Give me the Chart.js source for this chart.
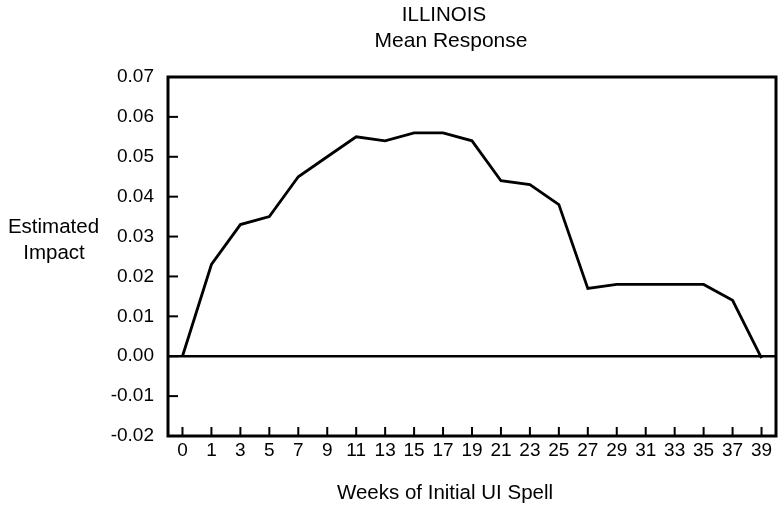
<!DOCTYPE html>
<html>
<head>
<meta charset="utf-8">
<script src="https://cdn.jsdelivr.net/npm/chart.js@4/dist/chart.umd.min.js"></script>
<style>
  html, body { margin: 0; padding: 0; background: #fff; }
  #wrap { width: 782px; height: 510px; position: relative; }
</style>
</head>
<body>
<div id="wrap"><canvas id="c" width="782" height="510"></canvas></div>
<script>
// Data
const weeks = ['0','1','3','5','7','9','11','13','15','17','19','21','23','25','27','29','31','33','35','37','39'];
const meanResponse = [0.000, 0.023, 0.033, 0.035, 0.045, 0.050, 0.055, 0.054, 0.056, 0.056, 0.054,
                      0.044, 0.043, 0.038, 0.017, 0.018, 0.018, 0.018, 0.018, 0.014, -0.0005];
const yTickValues = [0.07, 0.06, 0.05, 0.04, 0.03, 0.02, 0.01, 0.00, -0.01, -0.02];
const titleLines = ['ILLINOIS', 'Mean Response'];
const yTitleLines = ['Estimated', 'Impact'];
const xTitle = 'Weeks of Initial UI Spell';

const FONT = '"Liberation Sans", Arial, Helvetica, sans-serif';

const framePlugin = {
  id: 'frame',
  beforeDatasetsDraw(chart) {
    const {ctx, chartArea: a, scales: {x, y}} = chart;
    ctx.save();
    ctx.strokeStyle = '#000';
    // zero line
    ctx.lineWidth = 2.5;
    const y0 = y.getPixelForValue(0);
    ctx.beginPath(); ctx.moveTo(a.left, y0); ctx.lineTo(a.right, y0); ctx.stroke();
    // inside ticks on y axis
    ctx.lineWidth = 2;
    yTickValues.forEach(v => {
      const py = y.getPixelForValue(v);
      ctx.beginPath(); ctx.moveTo(a.left, py); ctx.lineTo(a.left + 10, py); ctx.stroke();
    });
    // inside ticks on x axis
    weeks.forEach((w, i) => {
      const px = x.getPixelForValue(i);
      ctx.beginPath(); ctx.moveTo(px, a.bottom); ctx.lineTo(px, a.bottom - 9); ctx.stroke();
    });
    // frame
    ctx.lineWidth = 3;
    ctx.strokeRect(a.left, a.top, a.right - a.left, a.bottom - a.top);
    ctx.restore();
  },
  afterDraw(chart) {
    const {ctx} = chart;
    ctx.save();
    ctx.fillStyle = '#000';
    ctx.textAlign = 'center';
    ctx.textBaseline = 'alphabetic';
    ctx.font = '20.5px ' + FONT;
    ctx.fillText(titleLines[0], 444, 20.5);
    ctx.font = '21px ' + FONT;
    ctx.fillText(titleLines[1], 451, 46.5);
    ctx.font = '20.5px ' + FONT;
    ctx.fillText(yTitleLines[0], 53.5, 233);
    ctx.fillText(yTitleLines[1], 54, 258.5);
    ctx.fillText(xTitle, 445, 498.5);
    ctx.restore();
  }
};

new Chart(document.getElementById('c'), {
  type: 'line',
  data: {
    labels: weeks,
    datasets: [{
      data: meanResponse,
      borderColor: '#000',
      borderWidth: 2.8,
      pointRadius: 0,
      tension: 0,
      fill: false
    }]
  },
  options: {
    responsive: false,
    animation: false,
    devicePixelRatio: 1,
    layout: { padding: { top: 77, right: 6, left: 0, bottom: 0 } },
    plugins: { legend: { display: false }, tooltip: { enabled: false }, title: { display: false } },
    scales: {
      x: {
        type: 'category',
        offset: true,
        grid: { display: false, drawTicks: false },
        border: { display: false },
        ticks: { color: '#000', font: { size: 19, family: FONT }, padding: 3, maxRotation: 0, autoSkip: false },
        afterFit(s) { s.height = 74; }
      },
      y: {
        min: -0.02,
        max: 0.07,
        grid: { display: false, drawTicks: false },
        border: { display: false },
        ticks: {
          stepSize: 0.01,
          color: '#000',
          font: { size: 19, family: FONT },
          padding: 14,
          callback: v => (Math.round(v * 100) / 100).toFixed(2)
        },
        afterFit(s) { s.width = 168; }
      }
    }
  },
  plugins: [framePlugin]
});
</script>
</body>
</html>
